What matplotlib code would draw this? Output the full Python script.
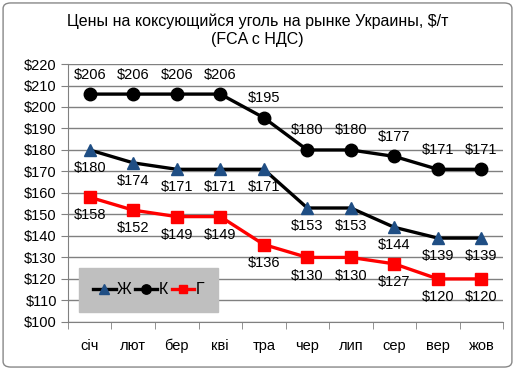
import matplotlib.pyplot as plt
from matplotlib.patches import FancyBboxPatch

plt.rcParams['font.family'] = ['Liberation Sans', 'DejaVu Sans']

months = ['січ', 'лют', 'бер', 'кві', 'тра', 'чер', 'лип', 'сер', 'вер', 'жов']
zh = [180, 174, 171, 171, 171, 153, 153, 144, 139, 139]
k = [206, 206, 206, 206, 195, 180, 180, 177, 171, 171]
g = [158, 152, 149, 149, 136, 130, 130, 127, 120, 120]

fig = plt.figure(figsize=(5.15, 3.7), dpi=100)
ax = fig.add_axes([0.132, 0.130, 0.845, 0.697])

x = list(range(len(months)))
ax.plot(x, zh, color='black', lw=2.4, marker='^', ms=9, mfc='#1F4E84', mec='#1F4E84', label='Ж', zorder=3)
ax.plot(x, k, color='black', lw=2.4, marker='o', ms=9, mfc='black', mec='black', label='К', zorder=3)
ax.plot(x, g, color='#FF0000', lw=2.4, marker='s', ms=8.5, mfc='#FF0000', mec='#FF0000', label='Г', zorder=3)

for xi, v in zip(x, k):
    ax.annotate('$%d' % v, (xi, v), xytext=(0, 9), textcoords='offset points',
                ha='center', va='bottom', fontsize=10.5)
for xi, v in zip(x, zh):
    ax.annotate('$%d' % v, (xi, v), xytext=(0, -8), textcoords='offset points',
                ha='center', va='top', fontsize=10.5)
for xi, v in zip(x, g):
    ax.annotate('$%d' % v, (xi, v), xytext=(0, -8), textcoords='offset points',
                ha='center', va='top', fontsize=10.5)

ax.set_xlim(-0.5, len(months) - 0.5)
ax.set_ylim(100, 220)
ax.set_yticks(range(100, 221, 10))
ax.set_yticklabels(['$%d' % v for v in range(100, 221, 10)], fontsize=10.5)
ax.set_xticks(x)
ax.set_xticklabels(months, fontsize=10.5)
ax.set_xticks([i + 0.5 for i in range(-1, len(months))], minor=True)
ax.tick_params(axis='x', which='major', length=0, pad=12)
ax.tick_params(axis='x', which='minor', length=5, color='#808080')
ax.tick_params(axis='y', length=5, color='#808080', pad=3)
ax.grid(axis='y', color='#808080', lw=1)
ax.set_axisbelow(True)
for s in ['top', 'right']:
    ax.spines[s].set_visible(False)
for s in ['left', 'bottom']:
    ax.spines[s].set_color('#808080')

leg = ax.legend(loc='lower left', bbox_to_anchor=(0.025, 0.04), ncol=3, fontsize=11.5,
                frameon=True, fancybox=False, handlelength=1.4, handletextpad=0.1,
                columnspacing=0.2, borderpad=0.9, markerscale=0.75, borderaxespad=0)
leg.get_frame().set_facecolor('#BFBFBF')
leg.get_frame().set_edgecolor('#BFBFBF')
leg.get_frame().set_alpha(1)
leg.set_zorder(5)

fig.text(0.5, 0.918, 'Цены на коксующийся уголь на рынке Украины, $/т\n(FCA с НДС)',
         ha='center', va='center', fontsize=11.5, linespacing=1.3)

border = FancyBboxPatch((0.006, 0.008), 0.988, 0.984, boxstyle='round,pad=0,rounding_size=0.015',
                        transform=fig.transFigure, fill=False, ec='#888888', lw=1)
fig.patches.append(border)

fig.savefig('out.png', dpi=100)
